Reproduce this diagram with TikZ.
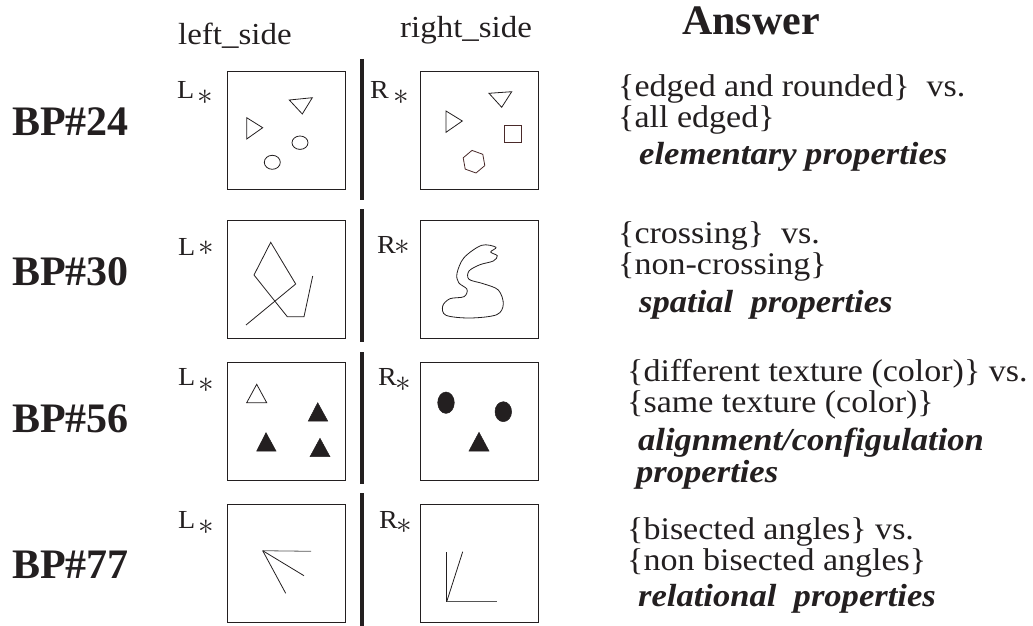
\documentclass[tikz,border=0pt]{standalone}
\usepackage{fontspec}
\setmainfont{Liberation Serif}
\newfontfamily\wideserif[FakeStretch=1.08]{Liberation Serif}
\definecolor{ink}{HTML}{231F20}
\definecolor{brn}{HTML}{4A2A2A}
\definecolor{gry}{HTML}{555555}
\newcommand{\myast}[1]{\raisebox{#1}{\scalebox{1.25}{$\ast$}}}
\begin{document}
\lineskiplimit=-100pt
\begin{tikzpicture}[x=1pt,y=-1pt,
  frame/.style={draw=ink, line width=1.4pt, anchor=north west, minimum width=118pt, minimum height=118pt, inner sep=0pt},
  sepbar/.style={draw=ink, line width=4.5pt},
  shp/.style={draw=ink, line width=0.8pt},
  blk/.style={fill=ink, draw=ink, line width=0.5pt},
  bp/.style={anchor=base west, inner sep=0pt, text=ink, font=\fontsize{42}{42}\selectfont\bfseries},
  hdr/.style={anchor=base west, inner sep=0pt, text=ink, font=\wideserif\fontsize{30.5}{30.5}\selectfont},
  lbl/.style={anchor=base west, inner sep=0pt, text=ink, font=\wideserif\fontsize{26}{26}\selectfont},
  ans/.style={anchor=base west, inner sep=0pt, text=ink, align=left, font=\wideserif\fontsize{31.5}{31}\selectfont},
  prop/.style={anchor=base west, inner sep=0pt, text=ink, align=left, font=\wideserif\fontsize{32}{32}\selectfont\bfseries\itshape},
]
\useasboundingbox (0,0) rectangle (1033,626);

% headers
\node[hdr] (hl) at (178,44.5) {left\_side};
\node[hdr] (hr) at (400,37.5) {right\_side};
\node[anchor=base west, inner sep=0pt, text=ink, font=\fontsize{42}{42}\selectfont\bfseries] (hans) at (682,35) {Answer};

% BP labels
\node[bp] (bp24) at (12,135) {BP\#24};
\node[bp] (bp30) at (12,285) {BP\#30};
\node[bp] (bp56) at (12,432) {BP\#56};
\node[bp] (bp77) at (12,578) {BP\#77};

% separator bars
\draw[sepbar] (362,59) -- (362,200);
\draw[sepbar] (362,209) -- (362,342);
\draw[sepbar] (362,352) -- (362,484);
\draw[sepbar] (362,493) -- (362,626);

% boxes
\node[frame] (L1) at (227,71) {};
\node[frame] (R1) at (419.5,71) {};
\node[frame] (L2) at (227,219.5) {};
\node[frame] (R2) at (419.5,219.5) {};
\node[frame] (L3) at (227,362) {};
\node[frame] (R3) at (419.5,362) {};
\node[frame] (L4) at (227,504) {};
\node[frame] (R4) at (419.5,504) {};

% L / R labels
\node[lbl] (l1) at (177,98.5) {L\hspace{3pt}\myast{-6pt}};
\node[lbl] (r1) at (370,98.5) {R\hspace{5pt}\myast{-6pt}};
\node[lbl] (l2) at (178,255) {L\hspace{3pt}\myast{0pt}};
\node[lbl] (r2) at (377,253) {R\hspace{-1pt}\myast{-1pt}};
\node[lbl] (l3) at (178,385) {L\hspace{3pt}\myast{-7pt}};
\node[lbl] (r3) at (378,385) {R\hspace{-1pt}\myast{-6pt}};
\node[lbl] (l4) at (178,528) {L\hspace{3pt}\myast{-6pt}};
\node[lbl] (r4) at (379,528) {R\hspace{-1pt}\myast{-5pt}};

% ---- row 1 shapes
\draw[shp] (246.7,117.7) -- (246.7,139) -- (262.7,127.7) -- cycle;
\draw[shp] (289.3,100) -- (312.3,97.7) -- (302.3,114) -- cycle;
\draw[shp] (300,142.7) ellipse [x radius=8, y radius=6.7];
\draw[shp] (272.3,162.3) ellipse [x radius=8, y radius=7];
\draw[shp] (446,111) -- (446,132.3) -- (462.3,121) -- cycle;
\draw[shp] (489,93.3) -- (511.7,91.7) -- (501.7,107.3) -- cycle;
\draw[shp, draw=brn] (504.3,125.7) rectangle (521.7,142.3);
\draw[shp, draw=brn] (472,150.4) -- (482.8,154.3) -- (484.8,165.6) -- (476,173) -- (465.2,169.1) -- (463.2,157.8) -- cycle;

% ---- row 2 shapes
\draw[shp, line join=miter] (246,325) -- (295.7,284) -- (270.7,242.3) -- (254,275) -- (287.3,316.7) -- (304,316.7) -- (312.7,276);
\draw[shp] plot[smooth cycle, tension=0.55] coordinates {
 (490.7,252) (497.3,255.8) (493.3,261) (480,264.7) (469,271) (469,279.3)
 (483.3,283.7) (498.3,290) (503.3,304) (496.7,314.7) (470,318) (446,315.3)
 (442.7,306) (450,298.7) (464,296.7) (467,289.3) (458.7,282.7) (457,273.3)
 (464,257.7) (481.7,245.3) (496,247.3)};

% ---- row 3 shapes
\draw[shp] (256.7,384.3) -- (246.7,402.7) -- (266.7,402.7) -- cycle;
\filldraw[blk] (317.7,402.7) -- (308.3,421) -- (327.7,421) -- cycle;
\filldraw[blk] (266,432.7) -- (256.7,451) -- (276,451) -- cycle;
\filldraw[blk] (320,438.3) -- (310,456.7) -- (330,456.7) -- cycle;
\filldraw[blk] (446,402.7) ellipse [x radius=8.3, y radius=10.7];
\filldraw[blk] (503.3,411.7) ellipse [x radius=8.3, y radius=10];
\filldraw[blk] (479,432.3) -- (469,451) -- (489,451) -- cycle;

% ---- row 4 shapes
\coordinate (a0) at (262.7,550.7);
\draw[shp, draw=gry] (a0) -- (311,551.3);
\draw[shp] (a0) -- (304,575.7);
\draw[shp] (a0) -- (285.7,593.3);
\coordinate (b0) at (446.7,601.7);
\draw[shp] (b0) -- (446.7,551.7);
\draw[shp] (b0) -- (462.7,551.7);
\draw[shp, draw=gry] (b0) -- (496.7,601.7);

% ---- answers (base anchor = last line)
\node[ans] (a1) at (618,127) {\{edged and rounded\} \ vs.\\\{all edged\}};
\node[prop] (p1) at (639,164) {elementary properties};

\node[ans] (a2) at (618,274) {\{crossing\} \ vs.\\\{non-crossing\}};
\node[prop] (p2) at (639,312) {spatial \ properties};

\node[ans] (a3) at (627,412) {\{different texture (color)\} vs.\\\{same texture (color)\}};
\node[prop] (p3) at (638,482) {alignment/configulation\\\hspace*{-2pt}properties};

\node[ans] (a4) at (627,570) {\{bisected angles\} vs.\\\{non bisected angles\}};
\node[prop] (p4) at (638,606) {relational \ properties};
\end{tikzpicture}
\end{document}
